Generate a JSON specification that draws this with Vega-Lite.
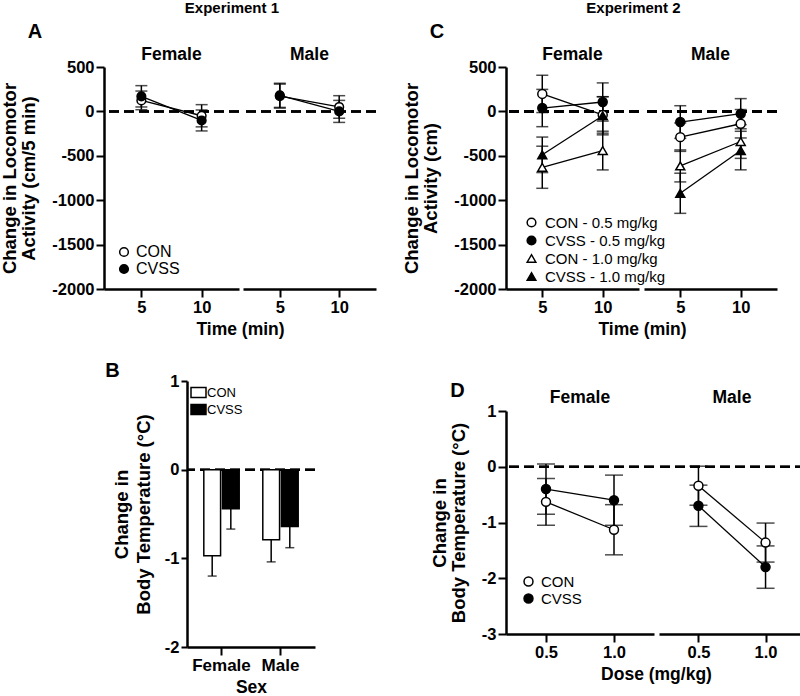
{
 "$schema": "https://vega.github.io/schema/vega-lite/v6.json",
 "padding": 0,
 "background": "white",
 "config": {
  "font": "Liberation Sans",
  "view": {"stroke": null},
  "axis": {"domainColor": "black", "domainWidth": 2.5, "tickColor": "black", "tickWidth": 2, "tickSize": 8, "labelColor": "black", "labelFontSize": 16.5, "labelFontWeight": "bold", "labelPadding": 2, "labelExpr": "'' + datum.value", "titleColor": "black", "titleFontWeight": "bold", "grid": false},
  "axisX": {"titleFontSize": 17.5, "titlePadding": 5, "labelAngle": 0},
  "axisY": {"titleFontSize": 18.5, "titlePadding": 13, "titleLineHeight": 19},
  "title": {"color": "black", "fontWeight": "bold", "fontSize": 17.5}
 },
 "datasets": {
  "exp1": [
   {"Sex": "Female", "Time": 5, "Group": "CON", "mean": 124, "sem": 105},
   {"Sex": "Female", "Time": 5, "Group": "CVSS", "mean": 170, "sem": 120},
   {"Sex": "Female", "Time": 10, "Group": "CON", "mean": -49, "sem": 125},
   {"Sex": "Female", "Time": 10, "Group": "CVSS", "mean": -102, "sem": 118},
   {"Sex": "Male", "Time": 5, "Group": "CON", "mean": 172, "sem": 135},
   {"Sex": "Male", "Time": 5, "Group": "CVSS", "mean": 181, "sem": 136},
   {"Sex": "Male", "Time": 10, "Group": "CON", "mean": 50, "sem": 127},
   {"Sex": "Male", "Time": 10, "Group": "CVSS", "mean": 0, "sem": 124}
  ],
  "exp2": [
   {"Sex": "Female", "Time": 5, "Series": "CON - 0.5 mg/kg", "mean": 197, "sem": 210},
   {"Sex": "Female", "Time": 5, "Series": "CVSS - 0.5 mg/kg", "mean": 38, "sem": 210},
   {"Sex": "Female", "Time": 5, "Series": "CON - 1.0 mg/kg", "mean": -629, "sem": 237},
   {"Sex": "Female", "Time": 5, "Series": "CVSS - 1.0 mg/kg", "mean": -489, "sem": 200},
   {"Sex": "Female", "Time": 10, "Series": "CON - 0.5 mg/kg", "mean": -40, "sem": 205},
   {"Sex": "Female", "Time": 10, "Series": "CVSS - 0.5 mg/kg", "mean": 106, "sem": 215},
   {"Sex": "Female", "Time": 10, "Series": "CON - 1.0 mg/kg", "mean": -441, "sem": 218},
   {"Sex": "Female", "Time": 10, "Series": "CVSS - 1.0 mg/kg", "mean": -49, "sem": 215},
   {"Sex": "Male", "Time": 5, "Series": "CON - 0.5 mg/kg", "mean": -290, "sem": 160},
   {"Sex": "Male", "Time": 5, "Series": "CVSS - 0.5 mg/kg", "mean": -120, "sem": 184},
   {"Sex": "Male", "Time": 5, "Series": "CON - 1.0 mg/kg", "mean": -614, "sem": 180},
   {"Sex": "Male", "Time": 5, "Series": "CVSS - 1.0 mg/kg", "mean": -922, "sem": 226},
   {"Sex": "Male", "Time": 10, "Series": "CON - 0.5 mg/kg", "mean": -139, "sem": 160},
   {"Sex": "Male", "Time": 10, "Series": "CVSS - 0.5 mg/kg", "mean": -26, "sem": 170},
   {"Sex": "Male", "Time": 10, "Series": "CON - 1.0 mg/kg", "mean": -339, "sem": 190},
   {"Sex": "Male", "Time": 10, "Series": "CVSS - 1.0 mg/kg", "mean": -441, "sem": 217}
  ],
  "temp1": [
   {"Sex": "Female", "Group": "CON", "value": -0.97, "lo": -1.2},
   {"Sex": "Female", "Group": "CVSS", "value": -0.44, "lo": -0.67},
   {"Sex": "Male", "Group": "CON", "value": -0.79, "lo": -1.04},
   {"Sex": "Male", "Group": "CVSS", "value": -0.64, "lo": -0.88}
  ],
  "temp2": [
   {"Sex": "Female", "Dose": "0.5", "Group": "CON", "mean": -0.63, "sem": 0.42},
   {"Sex": "Female", "Dose": "0.5", "Group": "CVSS", "mean": -0.4, "sem": 0.45},
   {"Sex": "Female", "Dose": "1.0", "Group": "CON", "mean": -1.13, "sem": 0.45},
   {"Sex": "Female", "Dose": "1.0", "Group": "CVSS", "mean": -0.6, "sem": 0.45},
   {"Sex": "Male", "Dose": "0.5", "Group": "CON", "mean": -0.34, "sem": 0.35},
   {"Sex": "Male", "Dose": "0.5", "Group": "CVSS", "mean": -0.7, "sem": 0.37},
   {"Sex": "Male", "Dose": "1.0", "Group": "CON", "mean": -1.36, "sem": 0.35},
   {"Sex": "Male", "Dose": "1.0", "Group": "CVSS", "mean": -1.8, "sem": 0.38}
  ]
 },
 "resolve": {"scale": {"fill": "independent", "shape": "independent", "stroke": "independent"}, "legend": {"fill": "independent", "shape": "independent", "stroke": "independent"}},
 "spacing": 25,
 "hconcat": [
  {
   "spacing": 23,
   "resolve": {"scale": {"fill": "independent", "shape": "independent", "stroke": "independent"}, "legend": {"fill": "independent", "shape": "independent", "stroke": "independent"}},
   "vconcat": [
    {
     "title": {"text": "Experiment 1", "fontSize": 15, "anchor": "middle", "dx": 43, "offset": 6},
     "resolve": {"scale": {"fill": "independent", "shape": "independent", "stroke": "independent"}, "legend": {"fill": "independent", "shape": "independent", "stroke": "independent"}},
     "vconcat": [
      {
       "title": {"text": "A", "fontSize": 20, "anchor": "start", "dx": 27, "offset": 4},
       "spacing": 4,
       "bounds": "flush",
       "resolve": {"legend": {"fill": "independent", "shape": "independent", "stroke": "independent"}},
       "hconcat": [
        {
         "width": 135, "height": 222,
         "title": {"text": "Female", "offset": -4},
         "data": {"name": "exp1"},
         "transform": [{"filter": "datum.Sex === 'Female'"}],
         "layer": [
          {"mark": {"type": "rule", "strokeDash": [10, 5], "strokeWidth": 2, "color": "black"},
           "encoding": {"y": {"datum": 0, "type": "quantitative", "scale": {"domain": [-2000, 500], "nice": false}, "axis": {"title": ["Change in Locomotor", "Activity (cm/5 min)"], "values": [-2000, -1500, -1000, -500, 0, 500]}}}},
          {"mark": {"type": "errorbar", "ticks": true, "size": 12, "thickness": 1.5, "color": "black"},
           "encoding": {
            "x": {"field": "Time", "type": "ordinal", "sort": [5, 10], "scale": {"type": "point", "padding": 0.62}, "axis": {"title": "Time (min)", "titleX": 136}},
            "y": {"field": "mean", "type": "quantitative", "scale": {"domain": [-2000, 500], "nice": false}, "axis": {"title": ["Change in Locomotor", "Activity (cm/5 min)"], "values": [-2000, -1500, -1000, -500, 0, 500]}},
            "yError": {"field": "sem"}, "detail": {"field": "Group"}}},
          {"mark": {"type": "line", "color": "black", "strokeWidth": 1.3},
           "encoding": {
            "x": {"field": "Time", "type": "ordinal", "sort": [5, 10], "scale": {"type": "point", "padding": 0.62}, "axis": {"title": "Time (min)", "titleX": 136}},
            "y": {"field": "mean", "type": "quantitative", "scale": {"domain": [-2000, 500], "nice": false}, "axis": {"title": ["Change in Locomotor", "Activity (cm/5 min)"], "values": [-2000, -1500, -1000, -500, 0, 500]}},
            "detail": {"field": "Group"}}},
          {"mark": {"type": "point", "filled": true, "size": 75, "strokeWidth": 1.5, "opacity": 1},
           "encoding": {
            "x": {"field": "Time", "type": "ordinal", "sort": [5, 10], "scale": {"type": "point", "padding": 0.62}, "axis": {"title": "Time (min)", "titleX": 136}},
            "y": {"field": "mean", "type": "quantitative", "scale": {"domain": [-2000, 500], "nice": false}, "axis": {"title": ["Change in Locomotor", "Activity (cm/5 min)"], "values": [-2000, -1500, -1000, -500, 0, 500]}},
            "shape": {"field": "Group", "type": "nominal", "scale": {"domain": ["CON", "CVSS"], "range": ["circle", "circle"]}, "legend": {"title": null, "orient": "bottom-left", "offset": 12, "padding": 0, "labelFontSize": 16, "labelFontWeight": "normal", "labelColor": "black", "symbolSize": 75, "symbolStrokeWidth": 1.5, "rowPadding": 1, "labelOffset": 4}},
            "fill": {"field": "Group", "type": "nominal", "scale": {"domain": ["CON", "CVSS"], "range": ["white", "black"]}, "legend": {"title": null, "orient": "bottom-left", "offset": 12, "padding": 0, "labelFontSize": 16, "labelFontWeight": "normal", "labelColor": "black", "symbolSize": 75, "symbolStrokeWidth": 1.5, "rowPadding": 1, "labelOffset": 4}},
            "stroke": {"field": "Group", "type": "nominal", "scale": {"domain": ["CON", "CVSS"], "range": ["black", "black"]}, "legend": {"title": null, "orient": "bottom-left", "offset": 12, "padding": 0, "labelFontSize": 16, "labelFontWeight": "normal", "labelColor": "black", "symbolSize": 75, "symbolStrokeWidth": 1.5, "rowPadding": 1, "labelOffset": 4}}}}
         ]
        },
        {
         "width": 133, "height": 222,
         "title": {"text": "Male", "offset": 4},
         "data": {"name": "exp1"},
         "transform": [{"filter": "datum.Sex === 'Male'"}],
         "layer": [
          {"mark": {"type": "rule", "strokeDash": [10, 5], "strokeWidth": 2, "color": "black"},
           "encoding": {"y": {"datum": 0, "type": "quantitative", "scale": {"domain": [-2000, 500], "nice": false}, "axis": null}}},
          {"mark": {"type": "errorbar", "ticks": true, "size": 12, "thickness": 1.5, "color": "black"},
           "encoding": {
            "x": {"field": "Time", "type": "ordinal", "sort": [5, 10], "scale": {"type": "point", "padding": 0.62}, "axis": {"title": null}},
            "y": {"field": "mean", "type": "quantitative", "scale": {"domain": [-2000, 500], "nice": false}, "axis": null},
            "yError": {"field": "sem"}, "detail": {"field": "Group"}}},
          {"mark": {"type": "line", "color": "black", "strokeWidth": 1.3},
           "encoding": {
            "x": {"field": "Time", "type": "ordinal", "sort": [5, 10], "scale": {"type": "point", "padding": 0.62}, "axis": {"title": null}},
            "y": {"field": "mean", "type": "quantitative", "scale": {"domain": [-2000, 500], "nice": false}, "axis": null},
            "detail": {"field": "Group"}}},
          {"mark": {"type": "point", "filled": true, "size": 75, "stroke": "black", "strokeWidth": 1.5, "opacity": 1},
           "encoding": {
            "x": {"field": "Time", "type": "ordinal", "sort": [5, 10], "scale": {"type": "point", "padding": 0.62}, "axis": {"title": null}},
            "y": {"field": "mean", "type": "quantitative", "scale": {"domain": [-2000, 500], "nice": false}, "axis": null},
            "shape": {"field": "Group", "type": "nominal", "scale": {"domain": ["CON", "CVSS"], "range": ["circle", "circle"]}, "legend": null},
            "fill": {"field": "Group", "type": "nominal", "scale": {"domain": ["CON", "CVSS"], "range": ["white", "black"]}, "legend": null}}}
         ]
        }
       ]
      }
     ]
    },
    {
     "spacing": 0,
     "resolve": {"scale": {"fill": "independent", "shape": "independent", "stroke": "independent"}, "legend": {"fill": "independent", "shape": "independent", "stroke": "independent"}},
     "hconcat": [
      {"width": 1, "height": 10, "data": {"values": []}, "mark": "point"},
      {
       "width": 128, "height": 266,
       "title": {"text": "B", "fontSize": 20, "anchor": "start", "dx": -7, "offset": -8},
       "data": {"name": "temp1"},
       "layer": [
        {"mark": {"type": "rule", "strokeDash": [10, 5], "strokeWidth": 2, "color": "black"},
         "encoding": {"y": {"datum": 0, "type": "quantitative", "scale": {"domain": [-2, 1], "nice": false}, "axis": {"title": ["Change in", "Body Temperature (°C)"], "values": [-2, -1, 0, 1], "titleLineHeight": 22, "titlePadding": 11, "tickSize": 6}}}},
        {"mark": {"type": "rule", "strokeWidth": 1.5, "color": "black"},
         "encoding": {
          "x": {"field": "Sex", "type": "nominal", "sort": ["Female", "Male"], "scale": {"type": "band", "paddingInner": 0.4, "paddingOuter": 0.285}, "axis": {"title": "Sex", "labelFontSize": 17}},
          "xOffset": {"field": "Group", "type": "nominal", "sort": ["CON", "CVSS"], "scale": {"paddingInner": 0.1, "paddingOuter": 0}},
          "y": {"field": "value", "type": "quantitative", "scale": {"domain": [-2, 1], "nice": false}, "axis": {"title": ["Change in", "Body Temperature (°C)"], "values": [-2, -1, 0, 1], "titleLineHeight": 22, "titlePadding": 11, "tickSize": 6}},
          "y2": {"field": "lo"}}},
        {"mark": {"type": "tick", "orient": "horizontal", "size": 9, "thickness": 1.5, "color": "black"},
         "encoding": {
          "x": {"field": "Sex", "type": "nominal", "sort": ["Female", "Male"], "scale": {"type": "band", "paddingInner": 0.4, "paddingOuter": 0.285}, "axis": {"title": "Sex", "labelFontSize": 17}},
          "xOffset": {"field": "Group", "type": "nominal", "sort": ["CON", "CVSS"], "scale": {"paddingInner": 0.1, "paddingOuter": 0}},
          "y": {"field": "lo", "type": "quantitative", "scale": {"domain": [-2, 1], "nice": false}, "axis": {"title": ["Change in", "Body Temperature (°C)"], "values": [-2, -1, 0, 1], "titleLineHeight": 22, "titlePadding": 11, "tickSize": 6}}}},
        {"mark": {"type": "bar", "stroke": "black", "strokeWidth": 1.5},
         "encoding": {
          "x": {"field": "Sex", "type": "nominal", "sort": ["Female", "Male"], "scale": {"type": "band", "paddingInner": 0.4, "paddingOuter": 0.285}, "axis": {"title": "Sex", "labelFontSize": 17}},
          "xOffset": {"field": "Group", "type": "nominal", "sort": ["CON", "CVSS"], "scale": {"paddingInner": 0.1, "paddingOuter": 0}},
          "y": {"field": "value", "type": "quantitative", "scale": {"domain": [-2, 1], "nice": false}, "axis": {"title": ["Change in", "Body Temperature (°C)"], "values": [-2, -1, 0, 1], "titleLineHeight": 22, "titlePadding": 11, "tickSize": 6}},
          "fill": {"field": "Group", "type": "nominal", "scale": {"domain": ["CON", "CVSS"], "range": ["white", "black"]}, "legend": {"title": null, "orient": "top-left", "offset": 5, "padding": 0, "labelFontSize": 13, "labelFontWeight": "normal", "labelColor": "black", "symbolType": "M-1.5,-1H1.5V1H-1.5Z", "symbolSize": 100, "symbolStrokeColor": "black", "symbolStrokeWidth": 1.5, "rowPadding": 0, "labelOffset": 2}}}}
       ]
      }
     ]
    }
   ]
  },
  {
   "spacing": 42,
   "resolve": {"scale": {"fill": "independent", "shape": "independent", "stroke": "independent"}, "legend": {"fill": "independent", "shape": "independent", "stroke": "independent"}},
   "vconcat": [
    {
     "title": {"text": "Experiment 2", "fontSize": 15, "anchor": "middle", "dx": 43, "offset": 6},
     "resolve": {"scale": {"fill": "independent", "shape": "independent", "stroke": "independent"}, "legend": {"fill": "independent", "shape": "independent", "stroke": "independent"}},
     "vconcat": [
      {
       "title": {"text": "C", "fontSize": 20, "anchor": "start", "dx": 27, "offset": 4},
       "spacing": 5,
       "bounds": "flush",
       "resolve": {"legend": {"fill": "independent", "shape": "independent", "stroke": "independent"}},
       "hconcat": [
        {
         "width": 133, "height": 222,
         "title": {"text": "Female", "offset": -4},
         "data": {"name": "exp2"},
         "transform": [{"filter": "datum.Sex === 'Female'"}],
         "layer": [
          {"mark": {"type": "rule", "strokeDash": [10, 5], "strokeWidth": 2, "color": "black"},
           "encoding": {"y": {"datum": 0, "type": "quantitative", "scale": {"domain": [-2000, 500], "nice": false}, "axis": {"title": ["Change in Locomotor", "Activity (cm)"], "values": [-2000, -1500, -1000, -500, 0, 500]}}}},
          {"mark": {"type": "errorbar", "ticks": true, "size": 12, "thickness": 1.5, "color": "black"},
           "encoding": {
            "x": {"field": "Time", "type": "ordinal", "sort": [5, 10], "scale": {"type": "point", "padding": 0.6}, "axis": {"title": "Time (min)", "titleX": 136}},
            "y": {"field": "mean", "type": "quantitative", "scale": {"domain": [-2000, 500], "nice": false}, "axis": {"title": ["Change in Locomotor", "Activity (cm)"], "values": [-2000, -1500, -1000, -500, 0, 500]}},
            "yError": {"field": "sem"}, "detail": {"field": "Series"}}},
          {"mark": {"type": "line", "color": "black", "strokeWidth": 1.3},
           "encoding": {
            "x": {"field": "Time", "type": "ordinal", "sort": [5, 10], "scale": {"type": "point", "padding": 0.6}, "axis": {"title": "Time (min)", "titleX": 136}},
            "y": {"field": "mean", "type": "quantitative", "scale": {"domain": [-2000, 500], "nice": false}, "axis": {"title": ["Change in Locomotor", "Activity (cm)"], "values": [-2000, -1500, -1000, -500, 0, 500]}},
            "detail": {"field": "Series"}}},
          {"mark": {"type": "point", "filled": true, "size": 80, "strokeWidth": 1.5, "opacity": 1},
           "encoding": {
            "x": {"field": "Time", "type": "ordinal", "sort": [5, 10], "scale": {"type": "point", "padding": 0.6}, "axis": {"title": "Time (min)", "titleX": 136}},
            "y": {"field": "mean", "type": "quantitative", "scale": {"domain": [-2000, 500], "nice": false}, "axis": {"title": ["Change in Locomotor", "Activity (cm)"], "values": [-2000, -1500, -1000, -500, 0, 500]}},
            "shape": {"field": "Series", "type": "nominal", "scale": {"domain": ["CON - 0.5 mg/kg", "CVSS - 0.5 mg/kg", "CON - 1.0 mg/kg", "CVSS - 1.0 mg/kg"], "range": ["circle", "circle", "triangle-up", "triangle-up"]}, "legend": {"title": null, "orient": "bottom-left", "offset": 4, "symbolOffset": 14, "padding": 0, "labelFontSize": 15, "labelFontWeight": "normal", "labelColor": "black", "symbolSize": 75, "symbolStrokeWidth": 1.5, "rowPadding": 2, "labelOffset": 6}},
            "fill": {"field": "Series", "type": "nominal", "scale": {"domain": ["CON - 0.5 mg/kg", "CVSS - 0.5 mg/kg", "CON - 1.0 mg/kg", "CVSS - 1.0 mg/kg"], "range": ["white", "black", "white", "black"]}, "legend": {"title": null, "orient": "bottom-left", "offset": 4, "symbolOffset": 14, "padding": 0, "labelFontSize": 15, "labelFontWeight": "normal", "labelColor": "black", "symbolSize": 75, "symbolStrokeWidth": 1.5, "rowPadding": 2, "labelOffset": 6}},
            "stroke": {"field": "Series", "type": "nominal", "scale": {"domain": ["CON - 0.5 mg/kg", "CVSS - 0.5 mg/kg", "CON - 1.0 mg/kg", "CVSS - 1.0 mg/kg"], "range": ["black", "black", "black", "black"]}, "legend": {"title": null, "orient": "bottom-left", "offset": 4, "symbolOffset": 14, "padding": 0, "labelFontSize": 15, "labelFontWeight": "normal", "labelColor": "black", "symbolSize": 75, "symbolStrokeWidth": 1.5, "rowPadding": 2, "labelOffset": 6}}}}
         ]
        },
        {
         "width": 133, "height": 222,
         "title": {"text": "Male", "offset": 4},
         "data": {"name": "exp2"},
         "transform": [{"filter": "datum.Sex === 'Male'"}],
         "layer": [
          {"mark": {"type": "rule", "strokeDash": [10, 5], "strokeWidth": 2, "color": "black"},
           "encoding": {"y": {"datum": 0, "type": "quantitative", "scale": {"domain": [-2000, 500], "nice": false}, "axis": null}}},
          {"mark": {"type": "errorbar", "ticks": true, "size": 12, "thickness": 1.5, "color": "black"},
           "encoding": {
            "x": {"field": "Time", "type": "ordinal", "sort": [5, 10], "scale": {"type": "point", "padding": 0.6}, "axis": {"title": null}},
            "y": {"field": "mean", "type": "quantitative", "scale": {"domain": [-2000, 500], "nice": false}, "axis": null},
            "yError": {"field": "sem"}, "detail": {"field": "Series"}}},
          {"mark": {"type": "line", "color": "black", "strokeWidth": 1.3},
           "encoding": {
            "x": {"field": "Time", "type": "ordinal", "sort": [5, 10], "scale": {"type": "point", "padding": 0.6}, "axis": {"title": null}},
            "y": {"field": "mean", "type": "quantitative", "scale": {"domain": [-2000, 500], "nice": false}, "axis": null},
            "detail": {"field": "Series"}}},
          {"mark": {"type": "point", "filled": true, "size": 80, "stroke": "black", "strokeWidth": 1.5, "opacity": 1},
           "encoding": {
            "x": {"field": "Time", "type": "ordinal", "sort": [5, 10], "scale": {"type": "point", "padding": 0.6}, "axis": {"title": null}},
            "y": {"field": "mean", "type": "quantitative", "scale": {"domain": [-2000, 500], "nice": false}, "axis": null},
            "shape": {"field": "Series", "type": "nominal", "scale": {"domain": ["CON - 0.5 mg/kg", "CVSS - 0.5 mg/kg", "CON - 1.0 mg/kg", "CVSS - 1.0 mg/kg"], "range": ["circle", "circle", "triangle-up", "triangle-up"]}, "legend": null},
            "fill": {"field": "Series", "type": "nominal", "scale": {"domain": ["CON - 0.5 mg/kg", "CVSS - 0.5 mg/kg", "CON - 1.0 mg/kg", "CVSS - 1.0 mg/kg"], "range": ["white", "black", "white", "black"]}, "legend": null}}}
         ]
        }
       ]
      }
     ]
    },
    {
     "title": {"text": "D", "fontSize": 20, "anchor": "start", "dx": 20, "offset": -12},
     "spacing": 5,
     "bounds": "flush",
     "resolve": {"scale": {"fill": "independent", "shape": "independent", "stroke": "independent"}, "legend": {"fill": "independent", "shape": "independent", "stroke": "independent"}},
     "hconcat": [
      {
       "width": 148, "height": 223,
       "title": {"text": "Female", "offset": -3},
       "data": {"name": "temp2"},
       "transform": [{"filter": "datum.Sex === 'Female'"}],
       "layer": [
        {"mark": {"type": "rule", "strokeDash": [10, 5], "strokeWidth": 2, "color": "black"},
         "encoding": {"y": {"datum": 0, "type": "quantitative", "scale": {"domain": [-3, 1], "nice": false}, "axis": {"title": ["Change in", "Body Temperature (°C)"], "values": [-3, -2, -1, 0, 1]}}}},
        {"mark": {"type": "errorbar", "ticks": true, "size": 18, "thickness": 1.5, "color": "black"},
         "encoding": {
          "x": {"field": "Dose", "type": "ordinal", "sort": ["0.5", "1.0"], "scale": {"type": "point", "padding": 0.588}, "axis": {"title": "Dose (mg/kg)", "titleX": 150}},
          "y": {"field": "mean", "type": "quantitative", "scale": {"domain": [-3, 1], "nice": false}, "axis": {"title": ["Change in", "Body Temperature (°C)"], "values": [-3, -2, -1, 0, 1]}},
          "yError": {"field": "sem"}, "detail": {"field": "Group"}}},
        {"mark": {"type": "line", "color": "black", "strokeWidth": 1.3},
         "encoding": {
          "x": {"field": "Dose", "type": "ordinal", "sort": ["0.5", "1.0"], "scale": {"type": "point", "padding": 0.588}, "axis": {"title": "Dose (mg/kg)", "titleX": 150}},
          "y": {"field": "mean", "type": "quantitative", "scale": {"domain": [-3, 1], "nice": false}, "axis": {"title": ["Change in", "Body Temperature (°C)"], "values": [-3, -2, -1, 0, 1]}},
          "detail": {"field": "Group"}}},
        {"mark": {"type": "point", "filled": true, "size": 80, "strokeWidth": 1.5, "opacity": 1},
         "encoding": {
          "x": {"field": "Dose", "type": "ordinal", "sort": ["0.5", "1.0"], "scale": {"type": "point", "padding": 0.588}, "axis": {"title": "Dose (mg/kg)", "titleX": 150}},
          "y": {"field": "mean", "type": "quantitative", "scale": {"domain": [-3, 1], "nice": false}, "axis": {"title": ["Change in", "Body Temperature (°C)"], "values": [-3, -2, -1, 0, 1]}},
          "shape": {"field": "Group", "type": "nominal", "scale": {"domain": ["CON", "CVSS"], "range": ["circle", "circle"]}, "legend": {"title": null, "orient": "bottom-left", "offset": 27, "symbolOffset": -12, "padding": 0, "labelFontSize": 15, "labelFontWeight": "normal", "labelColor": "black", "symbolSize": 80, "symbolStrokeWidth": 1.5, "rowPadding": 1, "labelOffset": 5}},
          "fill": {"field": "Group", "type": "nominal", "scale": {"domain": ["CON", "CVSS"], "range": ["white", "black"]}, "legend": {"title": null, "orient": "bottom-left", "offset": 27, "symbolOffset": -12, "padding": 0, "labelFontSize": 15, "labelFontWeight": "normal", "labelColor": "black", "symbolSize": 80, "symbolStrokeWidth": 1.5, "rowPadding": 1, "labelOffset": 5}},
          "stroke": {"field": "Group", "type": "nominal", "scale": {"domain": ["CON", "CVSS"], "range": ["black", "black"]}, "legend": {"title": null, "orient": "bottom-left", "offset": 27, "symbolOffset": -12, "padding": 0, "labelFontSize": 15, "labelFontWeight": "normal", "labelColor": "black", "symbolSize": 80, "symbolStrokeWidth": 1.5, "rowPadding": 1, "labelOffset": 5}}}}
       ]
      },
      {
       "width": 146, "height": 223,
       "title": {"text": "Male", "offset": 5},
       "data": {"name": "temp2"},
       "transform": [{"filter": "datum.Sex === 'Male'"}],
       "layer": [
        {"mark": {"type": "rule", "strokeDash": [10, 5], "strokeWidth": 2, "color": "black"},
         "encoding": {"y": {"datum": 0, "type": "quantitative", "scale": {"domain": [-3, 1], "nice": false}, "axis": null}}},
        {"mark": {"type": "errorbar", "ticks": true, "size": 18, "thickness": 1.5, "color": "black"},
         "encoding": {
          "x": {"field": "Dose", "type": "ordinal", "sort": ["0.5", "1.0"], "scale": {"type": "point", "padding": 0.588}, "axis": {"title": null}},
          "y": {"field": "mean", "type": "quantitative", "scale": {"domain": [-3, 1], "nice": false}, "axis": null},
          "yError": {"field": "sem"}, "detail": {"field": "Group"}}},
        {"mark": {"type": "line", "color": "black", "strokeWidth": 1.3},
         "encoding": {
          "x": {"field": "Dose", "type": "ordinal", "sort": ["0.5", "1.0"], "scale": {"type": "point", "padding": 0.588}, "axis": {"title": null}},
          "y": {"field": "mean", "type": "quantitative", "scale": {"domain": [-3, 1], "nice": false}, "axis": null},
          "detail": {"field": "Group"}}},
        {"mark": {"type": "point", "filled": true, "size": 80, "stroke": "black", "strokeWidth": 1.5, "opacity": 1},
         "encoding": {
          "x": {"field": "Dose", "type": "ordinal", "sort": ["0.5", "1.0"], "scale": {"type": "point", "padding": 0.588}, "axis": {"title": null}},
          "y": {"field": "mean", "type": "quantitative", "scale": {"domain": [-3, 1], "nice": false}, "axis": null},
          "shape": {"field": "Group", "type": "nominal", "scale": {"domain": ["CON", "CVSS"], "range": ["circle", "circle"]}, "legend": null},
          "fill": {"field": "Group", "type": "nominal", "scale": {"domain": ["CON", "CVSS"], "range": ["white", "black"]}, "legend": null}}}
       ]
      }
     ]
    }
   ]
  }
 ]
}
